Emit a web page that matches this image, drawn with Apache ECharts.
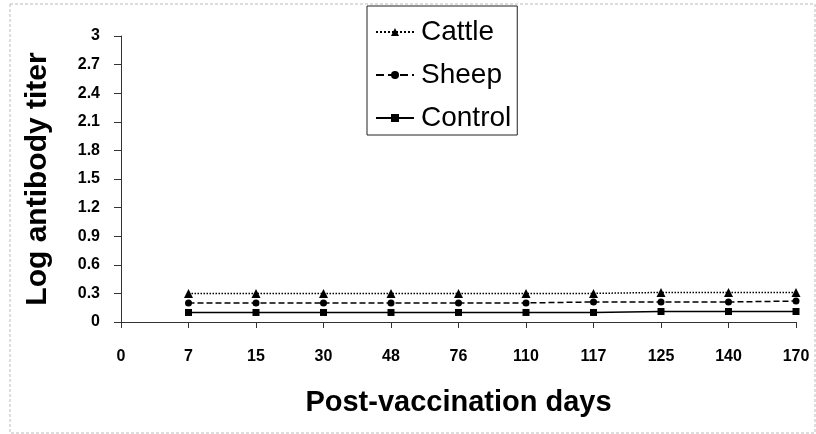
<!DOCTYPE html>
<html><head><meta charset="utf-8">
<script src="https://cdn.jsdelivr.net/npm/echarts@6/dist/echarts.min.js"></script>
<style>html,body{margin:0;padding:0;background:#fff}#c{width:816px;height:434px}</style>
</head><body><div id="c"></div>
<script>
const days = ['0','7','15','30','48','76','110','117','125','140','170'];
const yTicks = [0,0.3,0.6,0.9,1.2,1.5,1.8,2.1,2.4,2.7,3];
const cattle = [null,0.3,0.3,0.3,0.3,0.3,0.3,0.3,0.31,0.31,0.31];
const sheep = [null,0.2,0.2,0.2,0.2,0.2,0.2,0.21,0.21,0.21,0.22];
const control = [null,0.1,0.1,0.1,0.1,0.1,0.1,0.1,0.11,0.11,0.11];

const chart = echarts.init(document.getElementById('c'));
const font = 'Liberation Sans, Arial, sans-serif';
function s(name, data, type, symbol, size){
  return {name, type:'line', data, symbol, symbolSize:size, showSymbol:true,
    lineStyle:{color:'#000', width:1.5, type},
    itemStyle:{color:'#000'}, connectNulls:false, animation:false};
}
chart.setOption({
  animation:false,
  grid:{left:121, right:20, top:36, bottom:112},
  legend:{
    orient:'vertical', left:367, top:6, padding:[12,6,3,8], itemGap:15,
    itemWidth:38, itemHeight:10,
    borderColor:'#222', borderWidth:1,
    textStyle:{fontFamily:font, fontSize:28, color:'#000', padding:[0,0,0,2]},
    data:['Cattle','Sheep','Control']
  },
  xAxis:{
    type:'category', data:days, boundaryGap:false,
    name:'Post-vaccination days', nameLocation:'middle', nameGap:66,
    nameTextStyle:{fontFamily:font, fontSize:29, fontWeight:'bold', color:'#000'},
    axisLine:{lineStyle:{color:'#333', width:1}},
    axisTick:{show:true, length:6, lineStyle:{color:'#333'}},
    axisLabel:{fontFamily:font, fontSize:16, fontWeight:'bold', color:'#000', margin:27}
  },
  yAxis:{
    type:'value', min:0, max:3, interval:0.3,
    name:'Log antibody titer', nameLocation:'middle', nameGap:68,
    nameTextStyle:{fontFamily:font, fontSize:30, fontWeight:'bold', color:'#000'},
    axisLine:{show:true, lineStyle:{color:'#333', width:1}},
    axisTick:{show:true, length:7, lineStyle:{color:'#333'}},
    splitLine:{show:false},
    axisLabel:{fontFamily:font, fontSize:16, fontWeight:'bold', color:'#000', margin:21,
      formatter: v => { const t = yTicks.find(x => Math.abs(x - v) < 1e-6); return t === undefined ? '' : String(t); }}
  },
  graphic:[{type:'rect', shape:{x:10, y:4, width:805, height:429}, style:{fill:'none', stroke:'#bbb', lineWidth:1, lineDash:[3,2]}, silent:true}],
  series:[
    s('Cattle', cattle, 'dotted', 'triangle', 9),
    s('Sheep', sheep, 'dashed', 'circle', 7),
    s('Control', control, 'solid', 'rect', 7)
  ]
});
</script></body></html>
